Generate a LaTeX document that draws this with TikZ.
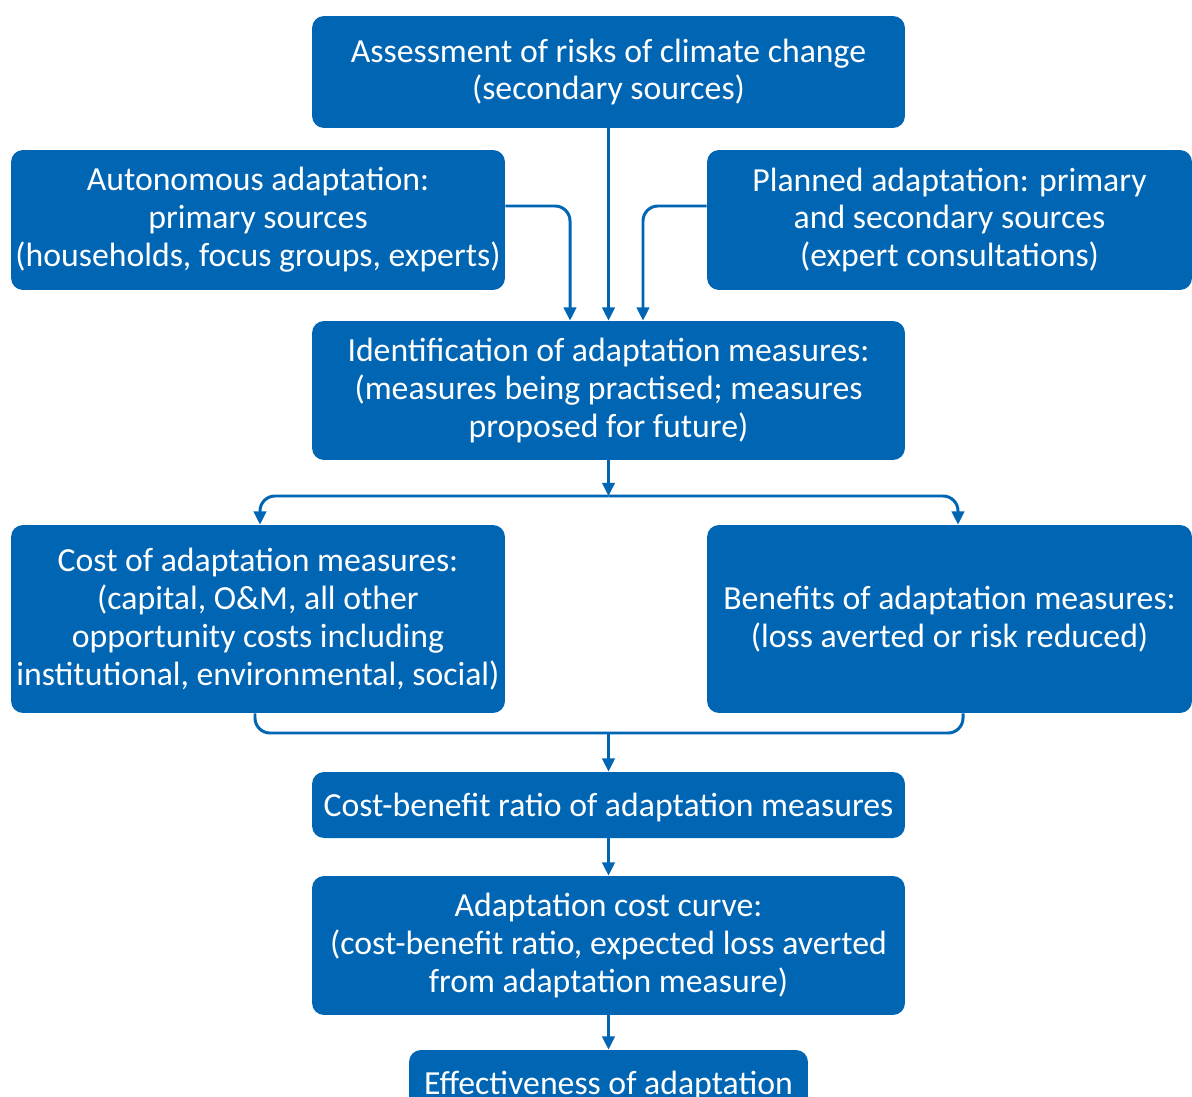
\documentclass[tikz,border=0pt]{standalone}
\usepackage{fontspec}
\setmainfont{Carlito}
\usetikzlibrary{arrows.meta}
\definecolor{boxblue}{RGB}{0,101,179}
\tikzset{
    box/.style={fill=boxblue,rounded corners=0.24cm,text=white,align=center,inner sep=0pt,
        font=\fontsize{19.2}{21.6}\selectfont,
        execute at begin node={\rule{0pt}{16pt}}},
    wide/.style={box,minimum width=11.86cm},
    side/.style={box,minimum width=9.8cm},
    link/.style={boxblue,line width=1.7pt,rounded corners=0.3cm},
    arr/.style={link,-{Triangle[length=7.5pt,width=7pt]}}
}

\begin{document}
\begin{tikzpicture}[x=0.02cm,y=-0.02cm]
        \useasboundingbox (0,0) rectangle (1192,1097);
        % boxes
        \node [wide,minimum height=2.24cm] (assess) at (608.5,72)
            {Assessment of risks of climate change\\(secondary sources)};
        \node [side,minimum width=9.88cm,minimum height=2.8cm] (auton) at (258,220)
            {Autonomous adaptation:\\primary sources\\(households, focus groups, experts)};
        \node [side,minimum width=9.7cm,minimum height=2.8cm] (planned) at (949.5,220)
            {Planned adaptation: primary\\and secondary sources\\(expert consultations)};
        \node [wide,minimum height=2.78cm] (ident) at (608.5,390.5)
            {Identification of adaptation measures:\\(measures being practised; measures\\proposed for future)};
        \node [side,minimum width=9.88cm,minimum height=3.76cm] (cost) at (258,619)
            {Cost of adaptation measures:\\(capital, O\&M, all other\\opportunity costs including\\institutional, environmental, social)};
        \node [side,minimum width=9.7cm,minimum height=3.76cm] (benef) at (949.5,619)
            {Benefits of adaptation measures:\\(loss averted or risk reduced)};
        \node [wide,minimum height=1.32cm] (ratio) at (608.5,805)
            {Cost-benefit ratio of adaptation measures};
        \node [wide,minimum height=2.78cm] (curve) at (608.5,945.5)
            {Adaptation cost curve:\\(cost-benefit ratio, expected loss averted\\from adaptation measure)};
        \node [box,minimum width=7.98cm,minimum height=1.32cm] (effect) at (608.5,1083)
            {Effectiveness of adaptation};
        % connectors
        \coordinate (split) at (608.5,496);
        \coordinate (join) at (608.5,733);
        \draw [arr] (assess) -- (ident);
        \draw [arr] ([yshift=0.28cm]auton.east) -| ([xshift=-0.77cm]ident.north);
        \draw [arr] ([yshift=0.28cm]planned.west) -| ([xshift=0.69cm]ident.north);
        \draw [arr] (ident) -- (split);
        \draw [arr] (split) -| ([xshift=0.04cm]cost.north);
        \draw [arr] (split) -| ([xshift=0.17cm]benef.north);
        \draw [link] ([xshift=-0.06cm]cost.south) |- (join) -| ([xshift=0.27cm]benef.south);
        \draw [arr] (join) -- (ratio);
        \draw [arr] (ratio) -- (curve);
        \draw [arr] (curve) -- (effect);
    \end{tikzpicture}
\end{document}
